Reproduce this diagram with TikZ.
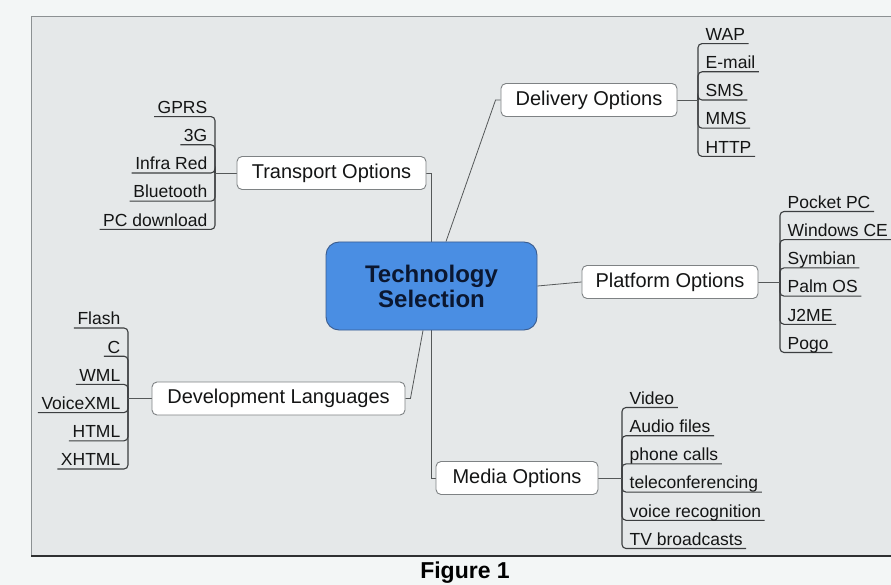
\documentclass[tikz,border=0pt]{standalone}
\usepackage{fontspec}
\setmainfont{Liberation Sans}
\usetikzlibrary{calc}

\definecolor{outerbg}{HTML}{F3F6F6}
\definecolor{panel}{HTML}{E5E8E9}
\definecolor{panelrule}{HTML}{8C9193}
\definecolor{baserule}{HTML}{2E3031}
\definecolor{hubfill}{HTML}{4A8EE3}
\definecolor{hubdraw}{HTML}{3A5C8E}
\definecolor{hubtext}{HTML}{0B1730}
\definecolor{boxdraw}{HTML}{7E8284}
\definecolor{linkcol}{HTML}{555859}
\definecolor{leafcol}{HTML}{3C3E40}
\definecolor{inkcol}{HTML}{141515}

\pgfdeclarelayer{panel}
\pgfdeclarelayer{links}
\pgfsetlayers{panel,links,main}

\tikzset{
  hub/.style={rounded corners=13pt, fill=hubfill, draw=hubdraw, line width=0.9pt,
    minimum width=211pt, minimum height=88pt, align=center,
    font=\fontsize{24}{25}\selectfont\bfseries, text=hubtext},
  branch/.style={rounded corners=5pt, fill=white, draw=boxdraw, line width=0.9pt,
    minimum height=33pt, font=\fontsize{20}{24}\selectfont, text=inkcol},
  leafL/.style={anchor=south east, inner xsep=3.5pt, inner ysep=3pt,
    text height=12.5pt, text depth=0pt, font=\fontsize{17.5}{20}\selectfont, text=inkcol},
  leafR/.style={leafL, anchor=south west},
  link/.style={draw=linkcol, line width=0.8pt},
  stem/.style={draw=leafcol, line width=1.1pt, rounded corners=4pt},
  caption/.style={font=\fontsize{23}{26}\selectfont\bfseries, text=black},
}

\begin{document}
\begin{tikzpicture}[x=1pt,y=-1pt]
\useasboundingbox (0,0) rectangle (891,585);

% panel behind the map
\begin{pgfonlayer}{panel}
  \fill[outerbg] (0,0) rectangle (891,585);
  \fill[panel] (31,16) rectangle (891,556);
  \draw[panelrule, line width=0.8pt] (31,556) -- (31,16) -- (891,16);
  \draw[baserule, line width=2pt] (31,556) -- (891,556);
\end{pgfonlayer}

% central topic and main branches
\node[hub] (C) at (431.5,286) {Technology\\Selection};
\node[branch, minimum width=189pt] (T)  at (331.5,173) {Transport Options};
\node[branch, minimum width=176pt] (D)  at (589,100)   {Delivery Options};
\node[branch, minimum width=176pt] (P)  at (670,282)   {Platform Options};
\node[branch, minimum width=162pt] (M)  at (517,478)   {Media Options};
\node[branch, minimum width=253pt] (Dv) at (278.5,398.5) {Development Languages};

% bracket hubs of the leaf groups
\coordinate (tb) at (215,173);
\coordinate (db) at (698,100);
\coordinate (pb) at (780,282);
\coordinate (mb) at (622,478);
\coordinate (vb) at (128,398.5);

% leaves
\foreach \t [count=\i from 0] in {GPRS,3G,Infra Red,Bluetooth,PC download}
  \node[leafL] (tr\i) at (211,{173+28.2*(\i-2)}) {\t};
\foreach \t [count=\i from 0] in {WAP,E-mail,SMS,MMS,HTTP}
  \node[leafR] (de\i) at (702,{100+28.2*(\i-2)}) {\t};
\foreach \t [count=\i from 0] in {Pocket PC,Windows CE,Symbian,Palm OS,J2ME,Pogo}
  \node[leafR] (pl\i) at (784,{282+28.2*(\i-2.5)}) {\t};
\foreach \t [count=\i from 0] in {Video,Audio files,phone calls,teleconferencing,voice recognition,TV broadcasts}
  \node[leafR] (me\i) at (626,{478+28.2*(\i-2.5)}) {\t};
\foreach \t [count=\i from 0] in {Flash,C,WML,VoiceXML,HTML,XHTML}
  \node[leafL] (dv\i) at (124,{398.5+28.2*(\i-2.5)}) {\t};

\begin{pgfonlayer}{links}
  % underlines bending into each group's bracket
  \foreach \i in {0,...,4} \draw[stem] (tr\i.south west) -| (tb);
  \foreach \i in {0,...,4} \draw[stem] (de\i.south east) -| (db);
  \foreach \i in {0,...,5} \draw[stem] (pl\i.south east) -| (pb);
  \foreach \i in {0,...,5} \draw[stem] (me\i.south east) -| (mb);
  \foreach \i in {0,...,5} \draw[stem] (dv\i.south west) -| (vb);

  % branch boxes to their brackets
  \draw[link] (T.west) -- (tb);
  \draw[link] (D.east) -- (db);
  \draw[link] (P.east) -- (pb);
  \draw[link] (M.east) -- (mb);
  \draw[link] (Dv.west) -- (vb);

  % central topic to branch boxes
  \draw[link] (T.east) -| (C.north);
  \draw[link] (C.south) |- (M.west);
  \draw[link] (D.west) -- ++(-5,0) -- ([xshift=14.5pt]C.north);
  \draw[link] (Dv.east) -- ++(5,0) -- ([xshift=-8.5pt]C.south);
  \draw[link] (C.east) -- (P.west);
\end{pgfonlayer}

\node[caption] (cap) at (465,573) {Figure 1};
\end{tikzpicture}
\end{document}
